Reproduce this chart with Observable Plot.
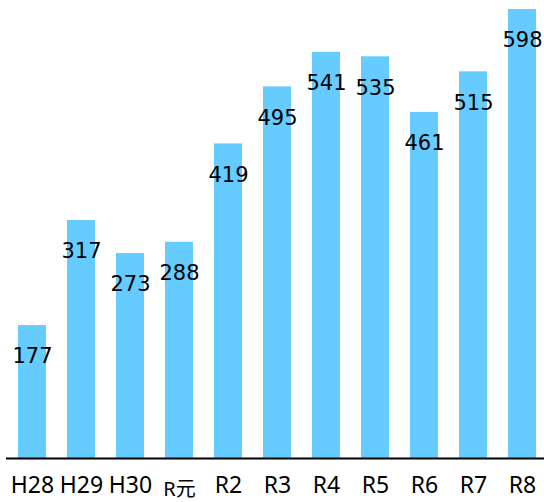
<!DOCTYPE html>
<html>
<head>
<meta charset="utf-8">
<script src="https://cdn.jsdelivr.net/npm/d3@7"></script>
<script src="https://cdn.jsdelivr.net/npm/@observablehq/plot@0.6"></script>
<style>
  html, body { margin: 0; padding: 0; background: #fff; }
  #chart { width: 544px; height: 502px; }
</style>
</head>
<body>
<div id="chart"></div>
<script>
const categories = ["H28", "H29", "H30", "R元", "R2", "R3", "R4", "R5", "R6", "R7", "R8"];
const values = [177, 317, 273, 288, 419, 495, 541, 535, 461, 515, 598];

const data = categories.map((c, i) => ({category: c, value: values[i]}));
const font = "'DejaVu Sans', Verdana, sans-serif";
const labelFont = "'Noto Sans', 'Noto Sans CJK JP', sans-serif";

const chart = Plot.plot({
  width: 544,
  height: 502,
  marginTop: 9,
  marginBottom: 44,
  marginLeft: 6,
  marginRight: 0,
  style: {fontFamily: font, background: "#fff"},
  x: {domain: categories, range: [6, 548], paddingInner: 0.42, paddingOuter: 0.21, axis: null},
  y: {domain: [0, 598], axis: null},
  marks: [
    Plot.barY(data, {x: "category", y: "value", fill: "#66CCFF"}),
    Plot.ruleY([0], {stroke: "#000", strokeWidth: 2}),
    Plot.text(data, {x: "category", y: "value", text: d => String(d.value), dy: 31, fontSize: 21, fill: "#000"}),
    Plot.text(data.filter(d => d.category !== "R元"), {x: "category", y: () => 0, text: "category", dy: 27, fontSize: 23, fontFamily: labelFont, fill: "#000"}),
    Plot.text(data.filter(d => d.category === "R元"), {x: "category", y: () => 0, text: "category", dy: 31, fontSize: 20, fontFamily: labelFont, fill: "#000"})
  ]
});
document.getElementById("chart").appendChild(chart);
</script>
</body>
</html>
